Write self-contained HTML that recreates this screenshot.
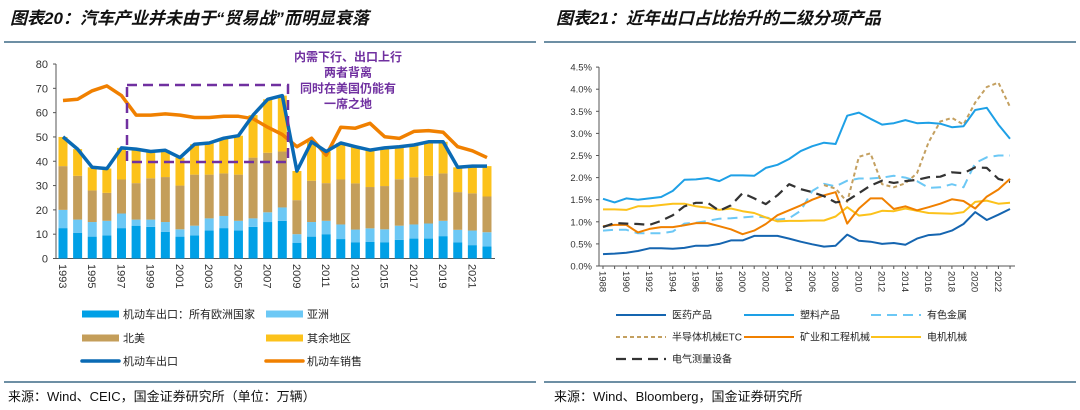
<!DOCTYPE html>
<html><head><meta charset="utf-8"><style>
body{margin:0;background:#fff;}
svg{display:block;font-family:"Liberation Sans","Noto Sans CJK SC",sans-serif;}
.t{font-size:17px;font-weight:bold;font-style:italic;fill:#111;}
.ax{font-size:11px;fill:#333;}
.lg{font-size:11px;fill:#222;}
.lg2{font-size:10px;fill:#222;}
.src{font-size:13px;fill:#111;}
</style></head><body>
<svg id="s" width="1080" height="410" viewBox="0 0 1080 410">
<text class="t" x="10" y="24">图表20：汽车产业并未由于“贸易战”而明显衰落</text>
<text class="t" x="556" y="24">图表21：近年出口占比抬升的二级分项产品</text>
<line x1="4" y1="42" x2="536" y2="42" stroke="#3d6a85" stroke-width="1.5"/>
<line x1="544" y1="42" x2="1076" y2="42" stroke="#3d6a85" stroke-width="1.5"/>
<line x1="4" y1="382" x2="536" y2="382" stroke="#3d6a85" stroke-width="1.5"/>
<line x1="544" y1="382" x2="1076" y2="382" stroke="#3d6a85" stroke-width="1.5"/>
<text class="src" x="8" y="401">来源：Wind、CEIC，国金证券研究所（单位：万辆）</text>
<text class="src" x="554" y="401">来源：Wind、Bloomberg，国金证券研究所</text>
<g id="L"></g>
<g id="R"></g>
</svg>
<script>
// Left chart data
const years = [1993,1994,1995,1996,1997,1998,1999,2000,2001,2002,2003,2004,2005,2006,2007,2008,2009,2010,2011,2012,2013,2014,2015,2016,2017,2018,2019,2020,2021,2022];
const europe = [12.5,10.5,9,9.5,12.5,13.5,13,11,9,9.5,11.5,12.5,11.5,13,15,15.5,6.5,9,10,8,6.7,6.9,6.7,7.7,8.2,8.2,9.2,6.6,5.5,5];
const asiaTop = [20,16,15,15.5,18.5,16,16,15,12,13.5,16.5,17.5,15.5,16.5,19,21,10,15,15.5,14,11.9,12.4,12,13.5,14,14.4,15.5,11.8,11.5,10.8];
const naTop = [38,34,28,27,32.5,31,33,33.5,30,34.5,34.5,35,34.5,41.5,43.5,44,24,32,31,32.5,30.9,29.4,29.8,32.6,33.4,34,35,27.3,26.8,25.5];
const exportTotal = [50,45,37.5,37,45.5,45,44,44.5,41.5,47,47.5,49.5,50.5,59,65.5,67,36,48,44,47.5,46,44.6,45.5,46,46.7,48,48,37.5,38,38];
const sales = [65,65.5,69,71,67,59,59,59.5,59,58,58,58.5,58.5,57.5,54,51,46,49.5,42.5,54,53.6,55.6,50.1,49.4,52.3,52.6,51.9,46,44.3,41.5];
const leftTicks = [0,10,20,30,40,50,60,70,80];

// Right chart data
const ryears = [];for(let y=1988;y<=2023;y++) ryears.push(y);
const medicine = [0.27,0.28,0.3,0.34,0.4,0.4,0.39,0.41,0.46,0.46,0.5,0.58,0.58,0.68,0.68,0.68,0.62,0.55,0.49,0.44,0.46,0.71,0.57,0.55,0.5,0.52,0.48,0.62,0.7,0.72,0.8,0.95,1.22,1.04,1.16,1.29];
const plastic = [1.52,1.44,1.53,1.5,1.53,1.56,1.7,1.95,1.96,1.99,1.92,2.05,2.05,2.04,2.22,2.29,2.42,2.6,2.71,2.79,2.76,3.4,3.47,3.33,3.2,3.23,3.3,3.23,3.24,3.22,3.14,3.16,3.53,3.58,3.2,2.88];
const nonferrous = [0.8,0.82,0.82,0.74,0.74,0.74,0.78,0.96,0.98,1.02,1.07,1.08,1.1,1.12,1.1,1.05,1.08,1.25,1.7,1.86,1.8,1.93,1.98,1.98,2.0,2.04,2.0,1.92,1.77,1.78,1.85,1.78,2.33,2.46,2.5,2.5];
const semi = [null,null,null,null,null,null,null,null,null,null,null,null,null,null,null,null,null,null,null,1.83,1.75,1.45,2.47,2.55,1.85,1.78,1.87,2.1,2.8,3.27,3.35,3.2,3.7,4.05,4.15,3.6];
const mining = [0.9,0.93,0.93,0.76,0.84,0.88,0.88,0.92,0.97,0.97,0.9,0.83,0.72,0.8,0.95,1.15,1.26,1.37,1.5,1.6,1.67,0.96,1.3,1.53,1.53,1.29,1.35,1.26,1.33,1.41,1.51,1.47,1.3,1.57,1.73,1.97];
const motor = [1.28,1.28,1.27,1.35,1.35,1.38,1.41,1.41,1.35,1.32,1.27,1.3,1.24,1.2,1.1,1.01,1.02,1.02,1.03,1.03,1.12,1.33,1.14,1.17,1.25,1.24,1.3,1.25,1.2,1.19,1.18,1.22,1.45,1.48,1.41,1.43];
const measure = [0.88,0.97,0.96,0.95,0.93,1.02,1.15,1.35,1.43,1.43,1.25,1.37,1.65,1.53,1.4,1.6,1.85,1.74,1.67,1.58,1.44,1.48,1.65,1.82,1.93,1.88,1.92,1.95,2.01,2.02,2.12,2.1,2.23,2.22,1.97,1.9];
const rightTicks = [0,0.5,1,1.5,2,2.5,3,3.5,4,4.5];

const NS="http://www.w3.org/2000/svg";
function mk(parent,tag,attrs,text){const e=document.createElementNS(NS,tag);for(const k in attrs)e.setAttribute(k,attrs[k]);if(text!==undefined)e.textContent=text;parent.appendChild(e);return e;}

// ---- Left chart ----
const L=document.getElementById('L');
const lx=i=>63+i*14.62, ly=v=>258.5-v*2.431;
let e=mk(L,'line',{x1:56,y1:ly(0),x2:495,y2:ly(0),stroke:'#555'});

e=mk(L,'line',{x1:56,y1:ly(0),x2:56,y2:ly(80),stroke:'#555'});

leftTicks.forEach(t=>{
  const tl=mk(L,'line',{x1:53,y1:ly(t),x2:56,y2:ly(t),stroke:'#555'});
  
  const tx=mk(L,'text',{x:48,y:ly(t)+4,'text-anchor':'end',class:'ax'},t);
  
});
const bw=9;
years.forEach((y,i)=>{
  const x=lx(i)-bw/2;
  const segs=[[0,europe[i],'#00a0e6','bar-europe'],[europe[i],asiaTop[i],'#6cc8f5','bar-asia'],[asiaTop[i],naTop[i],'#c49e5a','bar-north-america'],[naTop[i],exportTotal[i],'#fcc21b','bar-other-regions']];
  segs.forEach(s=>{
    const r=mk(L,'rect',{x:x,y:ly(s[1]),width:bw,height:ly(s[0])-ly(s[1]),fill:s[2]});
    
  });
  if(i%2===0){
    const tx=mk(L,'text',{x:0,y:0,class:'ax',transform:`translate(${lx(i)-4},264) rotate(90)`},y);
    
  }
});
const path=(arr,fx,fy)=>{let d='',pen=false;arr.forEach((v,i)=>{if(v===null){pen=false;return;}d+=(pen?'L':'M')+fx(i).toFixed(1)+','+fy(v).toFixed(1);pen=true;});return d;};
e=mk(L,'path',{d:path(sales,lx,ly),fill:'none',stroke:'#f08000','stroke-width':3.5,'stroke-linejoin':'round'});

e=mk(L,'path',{d:path(exportTotal,lx,ly),fill:'none',stroke:'#0a6ab4','stroke-width':3.5,'stroke-linejoin':'round'});

e=mk(L,'rect',{x:127,y:85,width:161,height:77,fill:'none',stroke:'#7030a0','stroke-width':2.5,'stroke-dasharray':'10 6'});

['内需下行、出口上行','两者背离','同时在美国仍能有','一席之地'].forEach((s,i)=>{
  const tx=mk(L,'text',{x:348,y:61+i*15.7,'text-anchor':'middle','font-size':'12','font-weight':'bold','fill':'#7030a0'},s);
  
});
const lleg=[[82,314,'#00a0e6','机动车出口：所有欧洲国家',0],[266,314,'#6cc8f5','亚洲',0],[82,338,'#c49e5a','北美',0],[266,338,'#fcc21b','其余地区',0],[82,361,'#0a6ab4','机动车出口',1],[266,361,'#f08000','机动车销售',1]];
lleg.forEach(g=>{
  const r=g[4]?mk(L,'line',{x1:g[0],y1:g[1],x2:g[0]+37,y2:g[1],stroke:g[2],'stroke-width':3.5,'stroke-linecap':'round'}):mk(L,'rect',{x:g[0],y:g[1]-3.5,width:37,height:7,fill:g[2]});
  
  const tx=mk(L,'text',{x:g[0]+41,y:g[1]+4,class:'lg'},g[3]);
  
});

// ---- Right chart ----
const R=document.getElementById('R');
const rx=i=>603+i*11.63, ry=v=>266-v*44.2;
e=mk(R,'line',{x1:599,y1:ry(0),x2:1015,y2:ry(0),stroke:'#555'});

e=mk(R,'line',{x1:599,y1:ry(0),x2:599,y2:ry(4.5),stroke:'#555'});

rightTicks.forEach(t=>{
  const tl=mk(R,'line',{x1:596,y1:ry(t),x2:599,y2:ry(t),stroke:'#555'});
  
  const tx=mk(R,'text',{x:592,y:ry(t)+3.5,'text-anchor':'end','font-size':'9.5','fill':'#333'},t.toFixed(1)+'%');
  
});
ryears.forEach((y,i)=>{
  const tl=mk(R,'line',{x1:rx(i),y1:ry(0),x2:rx(i),y2:ry(0)+3,stroke:'#555'});
  
  if(i%2===0){
    const tx=mk(R,'text',{x:0,y:0,'font-size':'9.5','fill':'#333',transform:`translate(${rx(i)-3.5},271) rotate(90)`},y);
    
  }
});
const series=[
 [nonferrous,'#6cc8f5','10 6',2,'line-nonferrous-metals','有色金属'],
 [semi,'#c4a060','4 3',2,'line-semiconductor-machinery','半导体机械ETC'],
 [motor,'#fcc21b','',2,'line-motor-machinery','电机机械'],
 [mining,'#f08000','',2,'line-mining-machinery','矿业和工程机械'],
 [measure,'#333','10 6',2.2,'line-electrical-measurement','电气测量设备'],
 [plastic,'#1ea0e6','',2,'line-plastic-products','塑料产品'],
 [medicine,'#1565b0','',2,'line-medical-products','医药产品']
];
series.forEach(s=>{
  const p=mk(R,'path',{d:path(s[0],rx,ry),fill:'none',stroke:s[1],'stroke-width':s[3],'stroke-dasharray':s[2],'stroke-linejoin':'round'});
  
});
const rleg=[[616,315,6],[744,315,5],[871,315,0],[616,337,1],[744,337,3],[871,337,2],[616,359,4]];
rleg.forEach(g=>{
  const s=series[g[2]];
  const ln=mk(R,'line',{x1:g[0],y1:g[1],x2:g[0]+50,y2:g[1],stroke:s[1],'stroke-width':s[3],'stroke-dasharray':s[2]});
  
  const tx=mk(R,'text',{x:g[0]+56,y:g[1]+3.5,class:'lg2'},s[5]);
  
});
</script>
</body></html>
